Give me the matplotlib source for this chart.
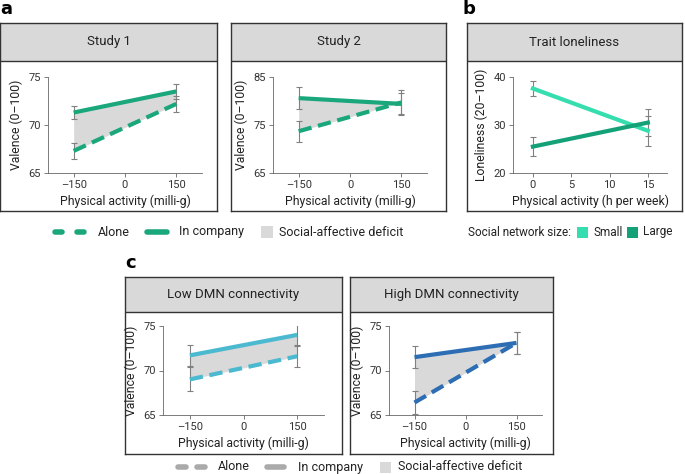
import matplotlib
matplotlib.use('Agg')
import matplotlib.pyplot as plt
from matplotlib.patches import Rectangle
from matplotlib.lines import Line2D

plt.rcParams['font.family'] = ['Roboto', 'DejaVu Sans']

W, H = 685, 474

# ---- data ----
act_x = [-150, 150]

s1_company = [71.3, 73.5]
s1_company_err = [0.7, 0.75]
s1_alone = [67.3, 72.2]
s1_alone_err = [0.8, 0.8]

s2_company = [80.6, 79.4]
s2_company_err = [2.3, 2.3]
s2_alone = [73.7, 79.7]
s2_alone_err = [2.2, 2.5]

hours_x = [0, 15]
lone_small = [37.6, 28.8]
lone_small_err = [1.6, 3.1]
lone_large = [25.5, 30.5]
lone_large_err = [2.0, 2.8]

low_company = [71.7, 74.0]
low_company_err = [1.2, 1.2]
low_alone = [69.0, 71.6]
low_alone_err = [1.35, 1.25]

high_company = [71.5, 73.1]
high_company_err = [1.2, 1.2]
high_alone = [66.4, 73.1]
high_alone_err = [1.25, 1.2]

GREEN = '#1ba77c'
SMALL = '#36deaf'
LARGE = '#14a178'
LBLUE = '#4bb9cf'
DBLUE = '#2d6db3'
FILL = '#d9d9d9'
ERR = '#808080'
TXT = '#222222'

fig = plt.figure(figsize=(W / 100, H / 100), dpi=100)


def rect(x0, y0, x1, y1):
    return [x0 / W, 1 - y1 / H, (x1 - x0) / W, (y1 - y0) / H]


def box(x0, y0, x1, y1, hb, title):
    ax = fig.add_axes(rect(x0, y0, x1, y1), zorder=0)
    ax.set_xticks([])
    ax.set_yticks([])
    for s in ax.spines.values():
        s.set_linewidth(1.0)
        s.set_color('#333333')
    f = (y1 - hb) / (y1 - y0)
    ax.add_patch(Rectangle((0, f), 1, 1 - f, transform=ax.transAxes,
                           facecolor=FILL, edgecolor='none'))
    ax.axhline(f, color='#333333', lw=1.0)
    ax.text(0.5, (1 + f) / 2, title, transform=ax.transAxes,
            ha='center', va='center', fontsize=9.5, color=TXT)
    return ax


def inner(x0, y0, x1, y1, xlim, ylim, xticks, yticks, xlabel, ylabel):
    ax = fig.add_axes(rect(x0, y0, x1, y1), zorder=2)
    ax.patch.set_alpha(0)
    ax.set_xlim(xlim)
    ax.set_ylim(ylim)
    ax.set_xticks(xticks)
    ax.set_yticks(yticks)
    ax.set_xticklabels([str(t).replace('-', '\u2013') for t in xticks])
    ax.spines['top'].set_visible(False)
    ax.spines['right'].set_visible(False)
    for s in ['left', 'bottom']:
        ax.spines[s].set_linewidth(0.6)
        ax.spines[s].set_color('#666666')
    ax.tick_params(length=3, width=0.6, color='#666666', labelsize=8,
                   labelcolor='#333333', pad=2)
    ax.set_xlabel(xlabel, fontsize=8.8, color=TXT, labelpad=3)
    ax.set_ylabel(ylabel, fontsize=8.8, color=TXT, labelpad=4)
    return ax


def social(ax, company, cerr, alone, aerr, color):
    ax.fill_between(act_x, alone, company, color=FILL, lw=0, zorder=1)
    ax.errorbar(act_x, company, yerr=cerr, fmt='none', ecolor=ERR,
                elinewidth=0.8, capsize=2.5, capthick=0.8, zorder=2)
    ax.errorbar(act_x, alone, yerr=aerr, fmt='none', ecolor=ERR,
                elinewidth=0.8, capsize=2.5, capthick=0.8, zorder=2)
    ax.plot(act_x, company, color=color, lw=3, solid_capstyle='butt', zorder=3)
    ax.plot(act_x, alone, color=color, lw=3, dashes=(3.2, 1.6), zorder=3)


# ---- panel a ----
box(0, 23, 217, 211, 61, 'Study 1')
ax = inner(48, 77, 202, 173, (-225, 225), (65, 75), [-150, 0, 150], [65, 70, 75],
           'Physical activity (milli-g)', 'Valence (0\u2013100)')
social(ax, s1_company, s1_company_err, s1_alone, s1_alone_err, GREEN)

box(231, 23, 446, 211, 61, 'Study 2')
ax = inner(273, 77, 427, 173, (-225, 225), (65, 85), [-150, 0, 150], [65, 75, 85],
           'Physical activity (milli-g)', 'Valence (0\u2013100)')
social(ax, s2_company, s2_company_err, s2_alone, s2_alone_err, GREEN)

# ---- panel b ----
box(467, 23, 682, 211, 61, 'Trait loneliness')
ax = inner(513, 77, 667, 173, (-2.6, 17.5), (20, 40), [0, 5, 10, 15], [20, 30, 40],
           'Physical activity (h per week)', 'Loneliness (20\u2013100)')
for vals, err, c in [(lone_small, lone_small_err, SMALL), (lone_large, lone_large_err, LARGE)]:
    ax.errorbar(hours_x, vals, yerr=err, fmt='none', ecolor=ERR,
                elinewidth=0.8, capsize=2.5, capthick=0.8, zorder=2)
    ax.plot(hours_x, vals, color=c, lw=3, zorder=3)

# ---- panel c ----
box(125, 277, 342, 454, 312, 'Low DMN connectivity')
ax = inner(163, 326, 324, 415, (-225, 225), (65, 75), [-150, 0, 150], [65, 70, 75],
           'Physical activity (milli-g)', 'Valence (0\u2013100)')
social(ax, low_company, low_company_err, low_alone, low_alone_err, LBLUE)

box(350, 277, 553, 454, 312, 'High DMN connectivity')
ax = inner(389, 326, 542, 415, (-225, 225), (65, 75), [-150, 0, 150], [65, 70, 75],
           'Physical activity (milli-g)', 'Valence (0\u2013100)')
social(ax, high_company, high_company_err, high_alone, high_alone_err, DBLUE)

# ---- panel letters ----
for lab, x, y in [('a', 0, 9), ('b', 463, 9), ('c', 125, 263)]:
    fig.text(x / W, 1 - y / H, lab, fontsize=13, fontweight='bold', va='center',
             ha='left', family=['DejaVu Sans'])


# ---- legends (hand placed, pixel layout) ----
def seg(x0, x1, y, color):
    # round caps add ~2.7 px on each end
    fig.add_artist(Line2D([(x0 + 2.7) / W, (x1 - 2.7) / W], [1 - y / H] * 2,
                          transform=fig.transFigure, color=color, lw=4,
                          solid_capstyle='round'))


def square(x0, x1, y, color):
    h = x1 - x0
    fig.add_artist(Rectangle((x0 / W, 1 - (y + h / 2) / H), h / W, h / H,
                             transform=fig.transFigure, facecolor=color,
                             edgecolor='none'))


def label(x, y, s, size=9):
    fig.text(x / W, 1 - y / H, s, fontsize=size, va='center', ha='left', color=TXT)


def legend_row(color, y, dash1, dash2, t1, solid, t2, patch, t3):
    seg(dash1[0], dash1[1], y, color)
    seg(dash2[0], dash2[1], y, color)
    label(t1, y, 'Alone')
    seg(solid[0], solid[1], y, color)
    label(t2, y, 'In company')
    square(patch[0], patch[1], y, FILL)
    label(t3, y, 'Social-affective deficit')


legend_row(GREEN, 232, (52, 65), (74, 87), 98, (144, 170), 179, (261, 273), 279)
legend_row('#aaaaaa', 467, (175, 189), (194, 208), 218, (264, 287), 298, (380, 391), 398)

label(468, 232, 'Social network size:', 8.5)
square(577, 588, 232, SMALL)
label(593, 232, 'Small', 8.5)
square(627, 638, 232, LARGE)
label(643, 232, 'Large', 8.5)

fig.savefig('out.png', dpi=100)
